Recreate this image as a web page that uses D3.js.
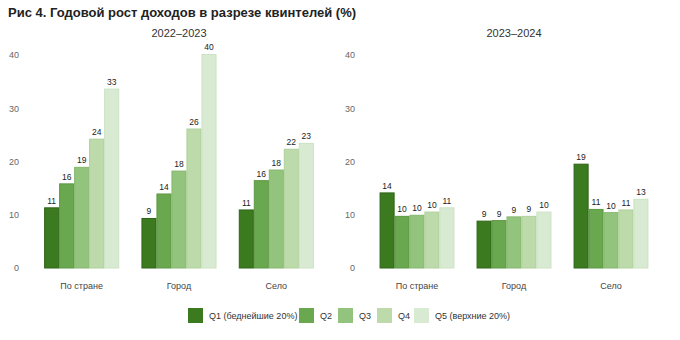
<!DOCTYPE html>
<html>
<head>
<meta charset="utf-8">
<script src="https://cdn.jsdelivr.net/npm/d3@7"></script>
<style>
  body { margin: 0; background: #fff; }
  text { font-family: "Liberation Sans", Arial, sans-serif; }
</style>
</head>
<body>
<div id="chart"></div>
<script>
const width = 680, height = 340;

const regions = ["По стране", "Город", "Село"];
const quintiles = ["Q1", "Q2", "Q3", "Q4", "Q5"];
const legendLabels = ["Q1 (беднейшие 20%)", "Q2", "Q3", "Q4", "Q5 (верхние 20%)"];
const colors = ["#3b7a1f", "#6aa84f", "#93c47d", "#bddaaa", "#d9ead3"];
const strokes = ["#2f6418", "#5b9742", "#85b86e", "#aed09a", "#cbe2c3"];
const yTicks = [0, 10, 20, 30, 40];

// значения по панелям: [регион][квинтиль]
const values2223 = [
    [11.3, 15.8, 18.9, 24.2, 33.6],
    [9.3, 13.9, 18.2, 26.1, 40.1],
    [10.9, 16.4, 18.4, 22.3, 23.4]
];
const labels2223 = [
    [11, 16, 19, 24, 33],
    [9, 14, 18, 26, 40],
    [11, 16, 18, 22, 23]
];
const values2324 = [
    [14.1, 9.7, 9.9, 10.5, 11.3],
    [8.8, 8.9, 9.6, 9.7, 10.5],
    [19.5, 11.0, 10.4, 10.9, 12.9]
];
const labels2324 = [
    [14, 10, 10, 10, 11],
    [9, 9, 9, 9, 10],
    [19, 11, 10, 11, 13]
];

const svg = d3.select("#chart")
    .append("svg")
    .attr("width", width)
    .attr("height", height);

svg.append("text")
    .attr("x", 8)
    .attr("y", 17)
    .style("font-size", "13px")
    .style("font-weight", "bold")
    .attr("fill", "#222")
    .text("Рис 4. Годовой рост доходов в разрезе квинтелей (%)");

const y = d3.scaleLinear()
    .domain([0, 40])
    .range([268, 55]);

const panels = [
    { title: "2022–2023", vals: values2223, labs: labels2223, x0: 33, x1: 325, tickX: 19 },
    { title: "2023–2024", vals: values2324, labs: labels2324, x0: 368.5, x1: 659.5, tickX: 355 }
];

panels.forEach(p => {
    const g = svg.append("g");

    const x = d3.scaleBand()
        .domain(regions)
        .range([p.x0, p.x1])
        .paddingInner(0.22)
        .paddingOuter(0.11);

    const x1 = d3.scaleBand()
        .domain(quintiles)
        .range([0, x.bandwidth()])
        .padding(0.06);

    g.append("text")
        .attr("x", (p.x0 + p.x1) / 2)
        .attr("y", 37)
        .attr("text-anchor", "middle")
        .style("font-size", "11px")
        .attr("fill", "#333")
        .text(p.title);

    // ось Y
    const yAxis = g.append("g")
        .attr("transform", `translate(${p.tickX},0)`)
        .call(d3.axisLeft(y).tickValues(yTicks).tickSize(0).tickPadding(0));
    yAxis.select(".domain").remove();
    yAxis.selectAll("text")
        .style("font-size", "9px")
        .style("font-family", "'Liberation Sans', Arial, sans-serif")
        .attr("fill", "#666");

    // ось X
    const xAxis = g.append("g")
        .attr("transform", "translate(0,283)")
        .call(d3.axisBottom(x).tickSize(0).tickPadding(0));
    xAxis.select(".domain").remove();
    xAxis.selectAll("text")
        .style("font-size", "9px")
        .style("font-family", "'Liberation Sans', Arial, sans-serif")
        .attr("fill", "#444");

    const groups = g.selectAll("g.region")
        .data(regions)
        .enter()
        .append("g")
        .attr("class", "region")
        .attr("transform", d => `translate(${x(d)},0)`);

    groups.selectAll("rect")
        .data((d, i) => quintiles.map((q, j) => ({ q: q, j: j, v: p.vals[i][j], lab: p.labs[i][j] })))
        .enter()
        .append("rect")
        .attr("x", d => x1(d.q))
        .attr("y", d => y(d.v))
        .attr("width", x1.bandwidth())
        .attr("height", d => y(0) - y(d.v))
        .attr("fill", d => colors[d.j])
        .attr("stroke", d => strokes[d.j])
        .attr("stroke-width", 1);

    groups.selectAll("text.val")
        .data((d, i) => quintiles.map((q, j) => ({ q: q, j: j, v: p.vals[i][j], lab: p.labs[i][j] })))
        .enter()
        .append("text")
        .attr("class", "val")
        .attr("x", d => x1(d.q) + x1.bandwidth() / 2)
        .attr("y", d => y(d.v) - 4)
        .attr("text-anchor", "middle")
        .style("font-size", "8.5px")
        .attr("fill", "#222")
        .text(d => d.lab);
});

// легенда
const legendX = [188, 299, 338, 377, 414];
const legend = svg.append("g");
legendLabels.forEach((l, i) => {
    legend.append("rect")
        .attr("x", legendX[i])
        .attr("y", 308)
        .attr("width", 15)
        .attr("height", 15)
        .attr("fill", colors[i]);
    legend.append("text")
        .attr("x", legendX[i] + 21)
        .attr("y", 319)
        .style("font-size", "9px")
        .attr("fill", "#333")
        .text(l);
});
</script>
</body>
</html>
